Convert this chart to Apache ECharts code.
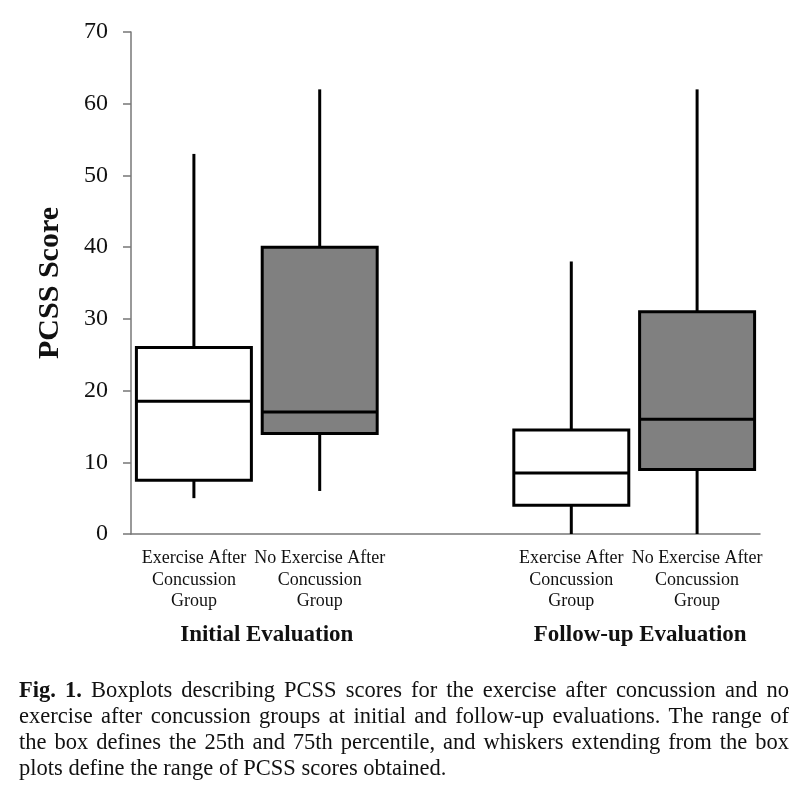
<!DOCTYPE html>
<html>
<head>
<meta charset="utf-8">
<script src="https://cdn.jsdelivr.net/npm/echarts@6/dist/echarts.min.js"></script>
<style>
  body { margin: 0; background: #fff; }
  #chart { position: absolute; left: 0; top: 0; width: 808px; height: 787px; }
  #caption {
    position: absolute; left: 19px; top: 677px; width: 770px;
    font-family: "Liberation Serif", serif; font-size: 22.5px; line-height: 26px; color: #111;
  }
  #caption div { text-align: justify; text-align-last: justify; white-space: nowrap; }
  #caption div.last { text-align-last: left; }
</style>
</head>
<body>
<div id="chart"></div>
<div id="caption">
  <div><b>Fig. 1.</b> Boxplots describing PCSS scores for the exercise after concussion and no</div>
  <div>exercise after concussion groups at initial and follow-up evaluations. The range of</div>
  <div>the box defines the 25th and 75th percentile, and whiskers extending from the box</div>
  <div class="last">plots define the range of PCSS scores obtained.</div>
</div>
<script>
// x categories (middle slot left empty to separate the two evaluations)
const categories = [
  'Exercise After\nConcussion\nGroup',
  'No Exercise After\nConcussion\nGroup',
  '',
  'Exercise After\nConcussion\nGroup',
  'No Exercise After\nConcussion\nGroup'
];
const boxSlots = [0, 1, 3, 4];
const minValues = [5, 6, 0, 0];
const q1Values = [7.5, 14, 4, 9];
const medianValues = [18.5, 17, 8.5, 16];
const q3Values = [26, 40, 14.5, 31];
const maxValues = [53, 62, 38, 62];
const yTicks = [0, 10, 20, 30, 40, 50, 60, 70];

const groupNames = ['Initial Evaluation', 'Follow-up Evaluation'];
const groupSlots = [[0, 1], [3, 4]];

// white = exercise group, grey = no exercise group
const boxFills = ['#ffffff', '#808080', '#ffffff', '#808080'];
const groupLabelShift = [10, 6];

const serif = '"Liberation Serif", "Times New Roman", serif';

const chart = echarts.init(document.getElementById('chart'));

const boxData = boxSlots.map(function (s, i) {
  return [s, minValues[i], q1Values[i], medianValues[i], q3Values[i], maxValues[i], i];
});

function renderBox(params, api) {
  const x = api.value(0);
  const pMin = api.coord([x, api.value(1)]);
  const pQ1 = api.coord([x, api.value(2)]);
  const pMed = api.coord([x, api.value(3)]);
  const pQ3 = api.coord([x, api.value(4)]);
  const pMax = api.coord([x, api.value(5)]);
  const half = api.size([1, 0])[0] * 0.457;
  const line = { stroke: '#000', lineWidth: 3 };
  return {
    type: 'group',
    children: [
      { type: 'line', shape: { x1: pMin[0], y1: pMin[1], x2: pQ1[0], y2: pQ1[1] }, style: line },
      { type: 'line', shape: { x1: pQ3[0], y1: pQ3[1], x2: pMax[0], y2: pMax[1] }, style: line },
      {
        type: 'rect',
        shape: { x: pQ3[0] - half, y: pQ3[1], width: half * 2, height: pQ1[1] - pQ3[1] },
        style: { fill: boxFills[api.value(6)], stroke: '#000', lineWidth: 3 }
      },
      { type: 'line', shape: { x1: pMed[0] - half, y1: pMed[1], x2: pMed[0] + half, y2: pMed[1] }, style: line }
    ]
  };
}

chart.setOption({
  animation: false,
  backgroundColor: 'transparent',
  grid: { left: 131, right: 48, top: 32, bottom: 253 },
  xAxis: {
    type: 'category',
    data: categories,
    boundaryGap: true,
    axisLine: { lineStyle: { color: '#777', width: 1.5 } },
    axisTick: { show: false },
    axisLabel: {
      interval: 0,
      margin: 14,
      fontFamily: serif,
      fontSize: 18,
      lineHeight: 21.5,
      color: '#111'
    }
  },
  yAxis: {
    type: 'value',
    min: yTicks[0],
    max: yTicks[yTicks.length - 1],
    interval: yTicks[1] - yTicks[0],
    name: 'PCSS Score',
    nameLocation: 'middle',
    nameGap: 66,
    nameTextStyle: { fontFamily: serif, fontSize: 30, fontWeight: 'bold', color: '#111' },
    splitLine: { show: false },
    axisLine: { show: true, lineStyle: { color: '#777', width: 1.5 } },
    axisTick: { show: true, length: 8, lineStyle: { color: '#777', width: 1.5 } },
    axisLabel: { margin: 23, fontFamily: serif, fontSize: 24, color: '#111' }
  },
  series: [{
    type: 'custom',
    renderItem: renderBox,
    data: boxData,
    encode: { x: 0, y: [1, 2, 3, 4, 5] }
  }]
});

// group titles centred under each pair of boxes
chart.setOption({
  graphic: groupNames.map(function (name, i) {
    const a = chart.convertToPixel({ xAxisIndex: 0 }, groupSlots[i][0]);
    const b = chart.convertToPixel({ xAxisIndex: 0 }, groupSlots[i][1]);
    return {
      type: 'text',
      x: (a + b) / 2 + groupLabelShift[i],
      y: 635,
      style: {
        text: name,
        fontFamily: serif,
        fontSize: 23,
        fontWeight: 'bold',
        fill: '#111',
        align: 'center',
        verticalAlign: 'middle'
      }
    };
  })
});
</script>
</body>
</html>
